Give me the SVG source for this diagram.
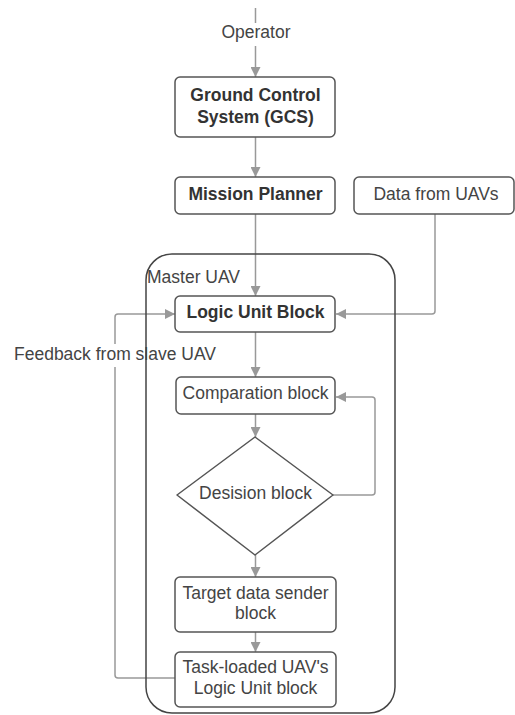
<svg xmlns="http://www.w3.org/2000/svg" width="515" height="715" viewBox="0 0 515 715">
<defs>
<marker id="ah" viewBox="0 0 10 10" refX="10" refY="5" markerWidth="10" markerHeight="10" markerUnits="userSpaceOnUse" orient="auto">
<path d="M0,0 L10,5 L0,10 z" fill="#999"/>
</marker>
<style>
.box{fill:#fff;stroke:#555;stroke-width:1.5}
.c{fill:none;stroke:#999;stroke-width:1.5;marker-end:url(#ah)}
.cn{fill:none;stroke:#999;stroke-width:1.5}
text{font-family:"Liberation Sans",Arial,sans-serif;font-size:17.5px;fill:#444;text-anchor:middle}
.b{font-weight:bold;fill:#333}
.l{text-anchor:start}
</style>
</defs>
<rect width="515" height="715" fill="#fff"/>
<g id="connectors">
<line class="cn" x1="255.5" y1="8" x2="255.5" y2="23"/>
<line class="c" x1="255.5" y1="46" x2="255.5" y2="77"/>
<line class="c" x1="255.5" y1="137" x2="255.5" y2="177"/>
<line class="c" x1="255.5" y1="214" x2="255.5" y2="296"/>
<path class="c" d="M435,214 V311 Q435,314 432,314 H336"/>
<line class="c" x1="255.5" y1="332" x2="255.5" y2="377"/>
<line class="c" x1="255.5" y1="414" x2="255.5" y2="437"/>
<path class="c" d="M333,495 H372 Q375,495 375,492 V400 Q375,397 372,397 H336"/>
<line class="c" x1="255.5" y1="555" x2="255.5" y2="577"/>
<line class="c" x1="255.5" y1="632" x2="255.5" y2="652"/>
<path class="c" d="M175,678 H118 Q115,678 115,675 V317 Q115,314 118,314 H175"/>
</g>
<g id="feedback-label">
<rect x="12" y="344" width="210" height="23" fill="#fff"/>
<text class="l" x="14" y="360">Feedback from slave UAV</text>
</g>
<g id="master">
<rect x="146" y="254" width="249" height="459" rx="26" fill="none" stroke="#444" stroke-width="1.5"/>
<text class="l" x="147" y="283">Master UAV</text>
</g>
<g id="operator"><text x="256" y="38">Operator</text></g>
<g id="gcs">
<rect class="box" x="175" y="77" width="160" height="60" rx="5"/>
<text class="b" x="255.5" y="101">Ground Control</text>
<text class="b" x="255.5" y="123">System (GCS)</text>
</g>
<g id="mission-planner">
<rect class="box" x="175" y="177" width="160" height="37" rx="5"/>
<text class="b" x="255.5" y="200">Mission Planner</text>
</g>
<g id="data-uavs">
<rect class="box" x="354" y="177" width="160" height="37" rx="5"/>
<text x="436" y="200">Data from UAVs</text>
</g>
<g id="logic-unit">
<rect class="box" x="175" y="296" width="160" height="36" rx="5"/>
<text class="b" x="255.5" y="318">Logic Unit Block</text>
</g>
<g id="comparation">
<rect class="box" x="176" y="377" width="159" height="37" rx="5"/>
<text x="255.5" y="399">Comparation block</text>
</g>
<g id="decision">
<path class="box" d="M255,437 L333,495 L255,555 L177,495 Z" stroke-linejoin="round"/>
<text x="255.5" y="499">Desision block</text>
</g>
<g id="target">
<rect class="box" x="175" y="577" width="161" height="55" rx="5"/>
<text x="255.5" y="599">Target data sender</text>
<text x="255.5" y="619">block</text>
</g>
<g id="task-loaded">
<rect class="box" x="175" y="652" width="161" height="55" rx="5"/>
<text x="255.5" y="673">Task-loaded UAV's</text>
<text x="255.5" y="694">Logic Unit block</text>
</g>
</svg>
